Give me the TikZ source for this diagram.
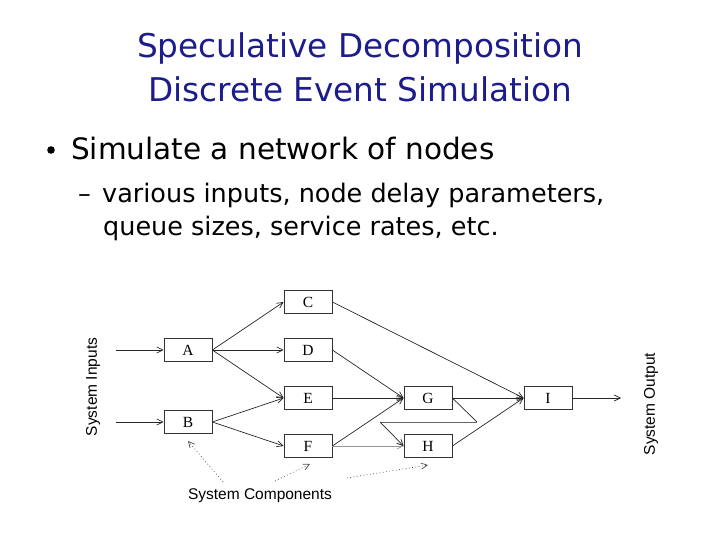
\documentclass[tikz,border=0pt]{standalone}
\usepackage{fontspec}
\usetikzlibrary{arrows.meta}
\newfontfamily\ttlfont{DejaVu Sans}
\newfontfamily\helv{Liberation Sans}
\newfontfamily\tms{Liberation Serif}
\definecolor{navy}{RGB}{28,28,140}
\definecolor{lgray}{RGB}{150,150,150}
\tikzset{
  box/.style={draw=black!80, line width=0.8pt, minimum width=48pt, minimum height=23pt, inner sep=0pt, font=\tms\fontsize{15.5}{15.5}\selectfont},
  arr/.style={draw=black!85, line width=0.7pt, -{Straight Barb[length=6pt,width=6pt]}},
  plain/.style={draw=black!85, line width=0.7pt},
  dotarr/.style={draw=black!70, line width=0.7pt, dash pattern=on 0.8pt off 2.5pt, -{Straight Barb[length=6pt,width=6pt]}},
  lbl/.style={font=\helv\fontsize{15.5}{15.5}\selectfont, inner sep=0pt},
}
\begin{document}
\begin{tikzpicture}[x=1pt,y=-1pt]
\useasboundingbox (0,0) rectangle (720,540);
% title
\node[anchor=base, text=navy, font=\ttlfont\fontsize{32.7}{32.7}\selectfont, inner sep=0pt] (t1) at (360,58) {Speculative Decomposition};
\node[anchor=base, text=navy, font=\ttlfont\fontsize{32.7}{32.7}\selectfont, inner sep=0pt] (t2) at (360,102) {Discrete Event Simulation};
% bullets
\fill (51,150) circle (3.8pt);
\node[anchor=base west, font=\ttlfont\fontsize{29.5}{29.5}\selectfont, inner sep=0pt] (b1) at (71,160) {Simulate a network of nodes};
\node[anchor=base west, font=\ttlfont\fontsize{25.5}{25.5}\selectfont, inner sep=0pt] (dash) at (78,203) {–};
\node[anchor=base west, font=\ttlfont\fontsize{25.5}{25.5}\selectfont, inner sep=0pt] (b2) at (102,203) {various inputs, node delay parameters,};
\node[anchor=base west, font=\ttlfont\fontsize{25.5}{25.5}\selectfont, inner sep=0pt] (b3) at (103,236) {queue sizes, service rates, etc.};
% boxes
\node[box] (C) at (308,302) {C};
\node[box] (A) at (188,350) {A};
\node[box] (D) at (308,350) {D};
\node[box] (E) at (308,398) {E};
\node[box] (B) at (188,422) {B};
\node[box] (F) at (308,446) {F};
\node[box] (G) at (428,398) {G};
\node[box] (H) at (428,446) {H};
\node[box] (I) at (548,398) {I};
% labels
\node[lbl, rotate=90] (sin) at (93,387) {System Inputs};
\node[lbl, rotate=90] (sout) at (651,404) {System Output};
\node[lbl] (sc) at (260,496) {System Components};
% coordinates
\coordinate (inA) at (116,350);
\coordinate (inB) at (116,422);
\coordinate (out) at (621,398);
\coordinate (fb1) at (477,422);
\coordinate (fb2) at (380,422);
\coordinate (d1) at (223,482);
\coordinate (d1t) at (188,441);
\coordinate (d2) at (275,481);
\coordinate (d2t) at (310,464);
\coordinate (d3) at (347,478);
\coordinate (d3t) at (428,465);
% edges
\draw[arr] (inA) -- (A.west);
\draw[arr] (inB) -- (B.west);
\draw[arr] (A.east) -- (C.west);
\draw[arr] (A.east) -- (D.west);
\draw[arr] (A.east) -- (E.west);
\draw[arr] (B.east) -- (E.west);
\draw[arr] (B.east) -- (F.west);
\draw[arr] (C.east) -- (I.west);
\draw[arr] (D.east) -- (G.west);
\draw[arr] (E.east) -- (G.west);
\draw[arr] (F.east) -- (G.west);
\draw[arr, draw=lgray] (F.east) -- (H.west);
\draw[arr] (G.east) -- (I.west);
\draw[arr] (H.east) -- (I.west);
\draw[arr] (I.east) -- (out);
\draw[plain] (G.east) -- (fb1);
\draw[plain, draw=black!60] (fb1) -- (fb2);
\draw[arr] (fb2) -- (H.west);
% dotted pointers
\draw[dotarr] (d1) -- (d1t);
\draw[dotarr] (d2) -- (d2t);
\draw[dotarr] (d3) -- (d3t);
\end{tikzpicture}
\end{document}
